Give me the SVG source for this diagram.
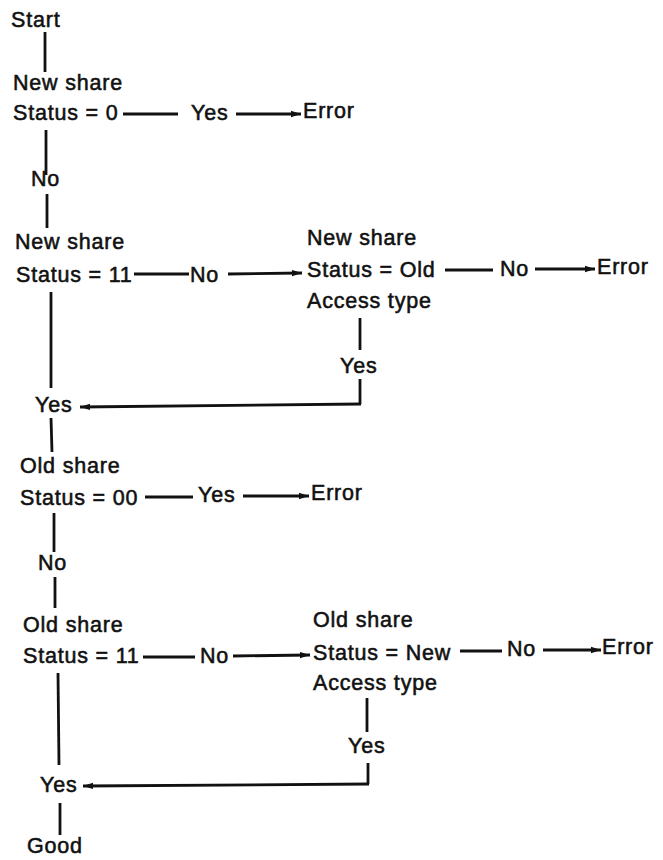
<svg xmlns="http://www.w3.org/2000/svg" width="663" height="860" viewBox="0 0 663 860">
<style>
text{font-family:"Liberation Sans",Arial,sans-serif;font-size:21.5px;letter-spacing:0.8px;fill:#111;stroke:#111;stroke-width:0.55px}
.ln{stroke:#111;stroke-width:2.8;fill:none}
.ar{stroke:#111;stroke-width:2.8;fill:none;marker-end:url(#ah)}
</style>
<defs>
<marker id="ah" markerUnits="userSpaceOnUse" markerWidth="11" markerHeight="8" refX="10" refY="4" orient="auto">
<path d="M0,0.8 L10,4 L0,7.2 Z" fill="#111"/>
</marker>
</defs>
<rect width="663" height="860" fill="#fff"/>
<g id="connectors">
<line class="ln" x1="45" y1="32" x2="45" y2="72"/>
<line class="ln" x1="123" y1="114" x2="178" y2="114"/>
<line class="ar" x1="236" y1="114" x2="301" y2="114"/>
<line class="ln" x1="46" y1="130" x2="46" y2="175"/>
<line class="ln" x1="47" y1="194" x2="47" y2="228"/>
<line class="ln" x1="134" y1="274" x2="189" y2="274"/>
<line class="ar" x1="228" y1="274" x2="302" y2="273"/>
<line class="ln" x1="445" y1="270" x2="493" y2="270"/>
<line class="ar" x1="535" y1="269" x2="595" y2="269"/>
<line class="ln" x1="360" y1="318" x2="360" y2="350"/>
<path class="ln" d="M360,379 L360,404"/>
<path class="ar" d="M361,404 L80,407"/>
<line class="ln" x1="51" y1="292" x2="51" y2="388"/>
<line class="ln" x1="51" y1="418" x2="52" y2="452"/>
<line class="ln" x1="145" y1="497" x2="193" y2="497"/>
<line class="ar" x1="243" y1="496" x2="309" y2="496"/>
<line class="ln" x1="54" y1="513" x2="54" y2="552"/>
<line class="ln" x1="55" y1="577" x2="55" y2="608"/>
<line class="ln" x1="143" y1="657" x2="195" y2="657"/>
<line class="ar" x1="233" y1="656" x2="310" y2="655"/>
<line class="ln" x1="460" y1="651" x2="502" y2="651"/>
<line class="ar" x1="543" y1="650" x2="601" y2="650"/>
<line class="ln" x1="367" y1="698" x2="367" y2="732"/>
<path class="ln" d="M368,763 L368,784"/>
<path class="ar" d="M369,784 L83,786"/>
<line class="ln" x1="58" y1="673" x2="59" y2="765"/>
<line class="ln" x1="60" y1="803" x2="60" y2="835"/>
</g>
<g id="start"><text x="11" y="27">Start</text></g>
<g id="q1"><text x="13" y="90">New share</text><text x="13" y="120">Status = 0</text></g>
<g id="q1-yes"><text x="191" y="120">Yes</text></g>
<g id="err1"><text x="303" y="118">Error</text></g>
<g id="q1-no"><text x="31" y="186">No</text></g>
<g id="q2"><text x="15" y="249">New share</text><text x="16" y="282">Status = 11</text></g>
<g id="q2-no"><text x="190" y="282">No</text></g>
<g id="q3"><text x="307" y="245">New share</text><text x="307" y="277">Status = Old</text><text x="307" y="308">Access type</text></g>
<g id="q3-no"><text x="500" y="276">No</text></g>
<g id="err2"><text x="597" y="274">Error</text></g>
<g id="q3-yes"><text x="340" y="373">Yes</text></g>
<g id="yes1"><text x="35" y="412">Yes</text></g>
<g id="q4"><text x="20" y="473">Old share</text><text x="20" y="505">Status = 00</text></g>
<g id="q4-yes"><text x="198" y="502">Yes</text></g>
<g id="err3"><text x="311" y="500">Error</text></g>
<g id="q4-no"><text x="38" y="570">No</text></g>
<g id="q5"><text x="23" y="632">Old share</text><text x="23" y="663">Status = 11</text></g>
<g id="q5-no"><text x="200" y="663">No</text></g>
<g id="q6"><text x="313" y="627">Old share</text><text x="313" y="660">Status = New</text><text x="313" y="690">Access type</text></g>
<g id="q6-no"><text x="507" y="656">No</text></g>
<g id="err4"><text x="602" y="654">Error</text></g>
<g id="q6-yes"><text x="348" y="753">Yes</text></g>
<g id="yes2"><text x="40" y="792">Yes</text></g>
<g id="good"><text x="27" y="853">Good</text></g>
</svg>
